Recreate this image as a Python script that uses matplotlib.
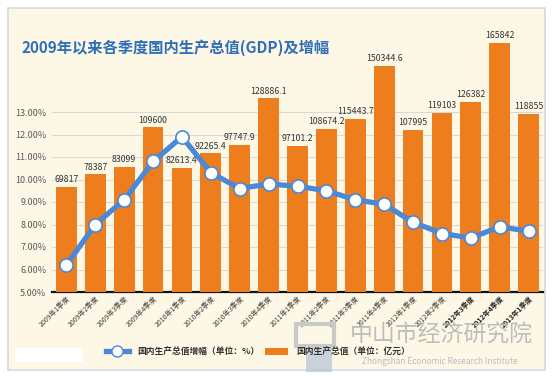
import matplotlib
matplotlib.use("Agg")
import matplotlib.pyplot as plt
from matplotlib.lines import Line2D
from matplotlib.patches import Patch, Rectangle

plt.rcParams['font.family'] = ['Noto Sans CJK SC', 'DejaVu Sans']

quarters = ["2009年1季度", "2009年2季度", "2009年3季度", "2009年4季度",
            "2010年1季度", "2010年2季度", "2010年3季度", "2010年4季度",
            "2011年1季度", "2011年2季度", "2011年3季度", "2011年4季度",
            "2012年1季度", "2012年2季度", "2012年3季度", "2012年4季度",
            "2013年1季度"]
gdp = [69817, 78387, 83099, 109600, 82613.4, 92265.4, 97747.9, 128886.1,
       97101.2, 108674.2, 115443.7, 150344.6, 107995, 119103, 126382, 165842,
       118855]
growth = [6.2, 8.0, 9.1, 10.8, 11.9, 10.3, 9.6, 9.8,
          9.7, 9.5, 9.1, 8.9, 8.1, 7.6, 7.4, 7.9, 7.7]
pct_ticks = [5, 6, 7, 8, 9, 10, 11, 12, 13]

title = "2009年以来各季度国内生产总值(GDP)及增幅"
legend_line = "国内生产总值增幅（单位：%）"
legend_bar = "国内生产总值（单位：亿元）"

cream = '#FDF8E6'
orange = '#EE7D1E'
blue = '#4A88D8'

fig = plt.figure(figsize=(5.53, 3.76), dpi=100)
fig.patch.set_facecolor('white')
fig.patches.append(Rectangle((8/553, 1-370/376), 537/553, 362/376, transform=fig.transFigure,
                             facecolor=cream, edgecolor='#D8D8D8', lw=1.2, zorder=-10))

pos = [52/553, 1-292/376, 491/553, 270/376]
ax = fig.add_axes(pos)
ax.set_facecolor('none')
ax.set_ylim(5, 17)
ax.set_xlim(-0.5, len(quarters)-0.5)
ax.set_yticks(pct_ticks)
ax.set_yticklabels([f"{t:.2f}%" for t in pct_ticks], fontsize=6.5, color='#595959')
for t in pct_ticks[1:]:
    ax.axhline(t, color='#D9D9D9', lw=0.8, zorder=0)
for s in ['top', 'right', 'left']:
    ax.spines[s].set_visible(False)
ax.spines['bottom'].set_linewidth(1.6)
ax.spines['bottom'].set_color('#111111')
ax.tick_params(axis='y', length=0, pad=4)
ax.tick_params(axis='x', length=0, pad=2)
x = list(range(len(quarters)))
ax.set_xticks(x)
ax.set_xticklabels(quarters, rotation=45, ha='right', rotation_mode='anchor',
                   fontsize=5, color='#404040')
for i, lab in enumerate(ax.get_xticklabels()):
    if i >= 14:
        lab.set_fontweight('bold')
        lab.set_color('#222222')

ax2 = ax.twinx()
ax2.set_zorder(ax.get_zorder()+1)
ax2.set_facecolor('none')
ax2.set_ylim(0, 12*22.5*666)
ax2.set_yticks([])
for s in ax2.spines.values():
    s.set_visible(False)
bars = ax2.bar(x, gdp, width=0.72, color=orange, zorder=2)
labels = [(f"{v:.1f}").rstrip('0').rstrip('.') for v in gdp]
ax2.bar_label(bars, labels=labels, padding=2, fontsize=6.3, color='#333333')

ax3 = ax.twinx()
ax3.set_zorder(ax2.get_zorder()+1)
ax3.set_facecolor('none')
ax3.set_ylim(ax.get_ylim())
ax3.set_yticks([])
for s in ax3.spines.values():
    s.set_visible(False)
ax3.plot(x, growth, color=blue, lw=3.8, marker='o', markersize=9.5,
         markerfacecolor='white', markeredgecolor=blue, markeredgewidth=1.2,
         solid_capstyle='round')

fig.text(22/553, 1-48/376, title, fontsize=11, color='#2F6EB8', fontweight='bold',
         va='center', ha='left')

# watermark logo and text
fig.patches.append(Rectangle((296/553, 1-346/376), 38/553, 22/376, transform=fig.transFigure,
                             facecolor='none', edgecolor='#C9C9C9', lw=3, zorder=5))
fig.patches.append(Rectangle((306/553, 1-372/376), 26/553, 24/376, transform=fig.transFigure,
                             facecolor='#BCC8D6', edgecolor='none', alpha=0.8, zorder=4))
fig.text(441/553, 1-335/376, "中山市经济研究院", fontsize=16.5, color='#BDBDBD',
         ha='center', va='center', zorder=6)
fig.text(440/553, 1-361/376, "Zhongshan Economic Research Institute", fontsize=6,
         color='#BBBBBB', ha='center', va='center', zorder=6)
fig.patches.append(Rectangle((15/553, 1-362/376), 68/553, 14/376, transform=fig.transFigure,
                             facecolor='white', edgecolor='none', zorder=3))

handles = [Line2D([0], [0], color=blue, lw=3.8, marker='o', markersize=8,
                  markerfacecolor='white', markeredgecolor=blue),
           Patch(facecolor=orange, edgecolor='none')]
leg = fig.legend(handles, [legend_line, legend_bar], loc='center',
                 bbox_to_anchor=(258/553, 1-352/376), ncol=2, frameon=False,
                 prop={'size': 6.3, 'weight': 'bold'}, handlelength=2.6,
                 columnspacing=0.6, handletextpad=1.0)
for t in leg.get_texts():
    t.set_color('#333333')

fig.savefig('out.png', dpi=100, facecolor=fig.get_facecolor())
